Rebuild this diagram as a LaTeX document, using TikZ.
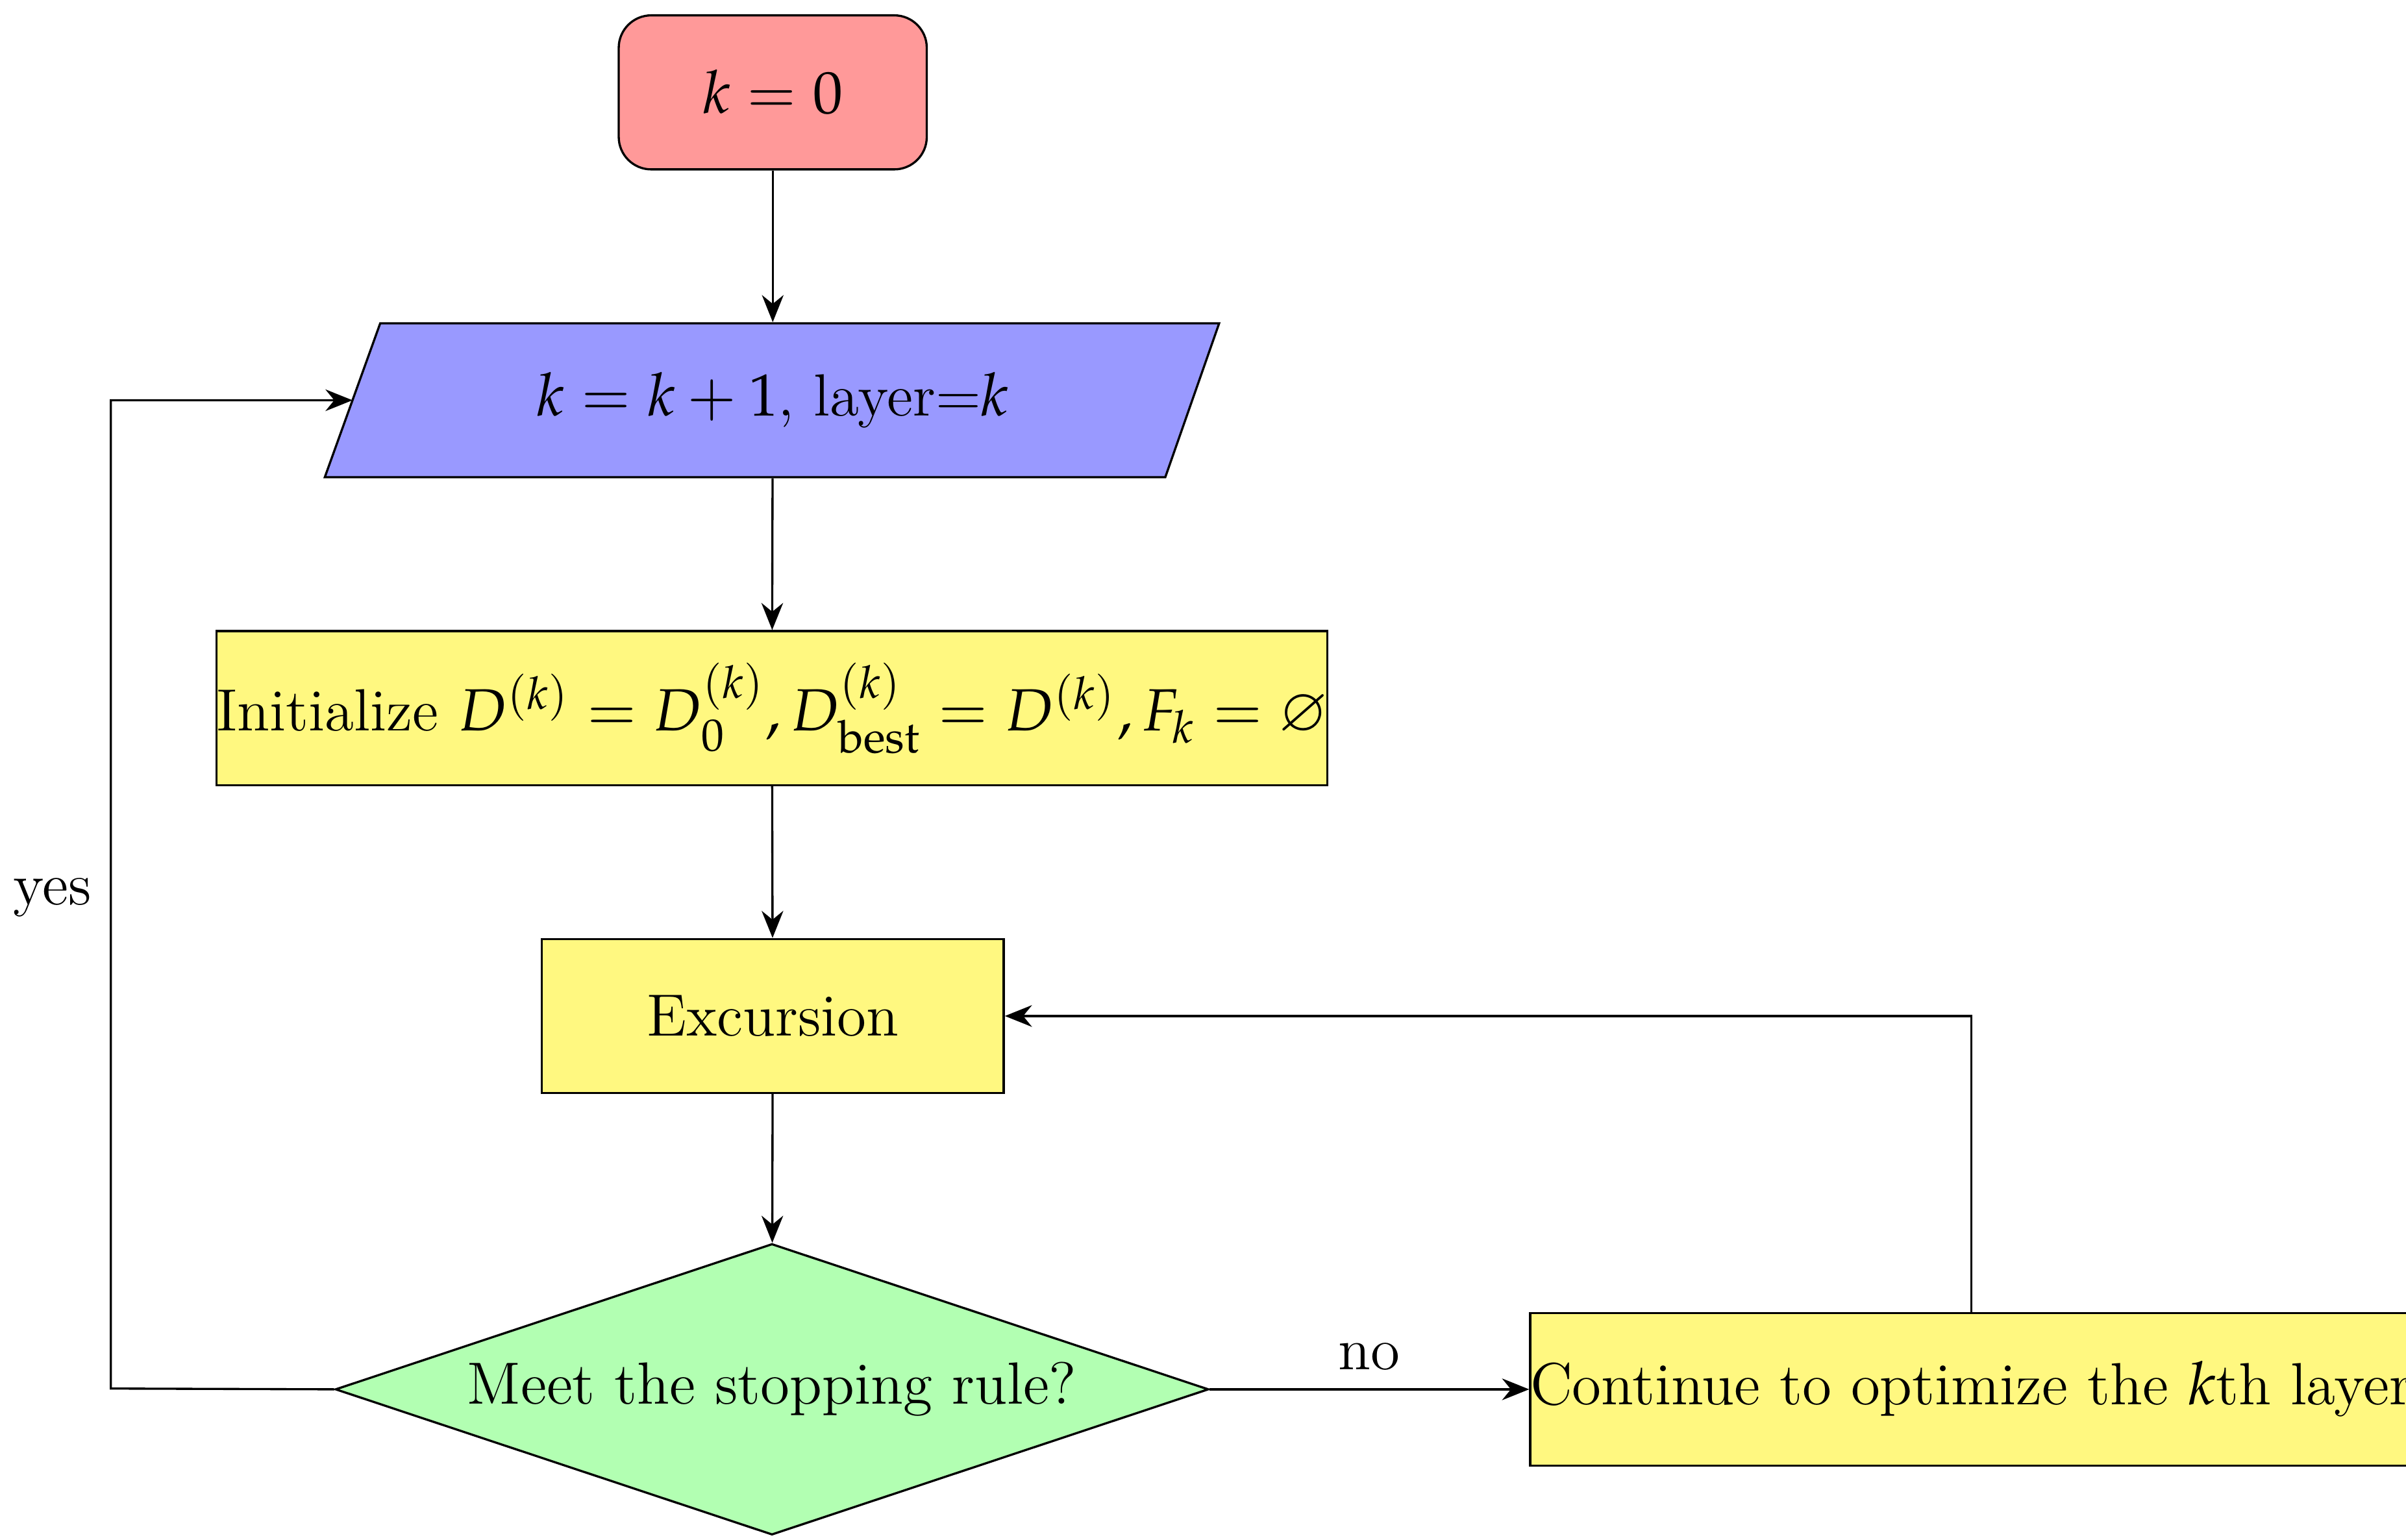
\documentclass[tikz,border=0pt]{standalone}
\usepackage{amssymb}
\usepackage{mathpazo}
\usetikzlibrary{arrows.meta,shapes.geometric}
\begin{document}
\begin{tikzpicture}[x=0.01cm,y=-0.01cm,
  box/.style={draw,fill=yellow!50,minimum height=1cm,inner sep=0pt},
  arr/.style={-{Stealth[length=5pt,width=4pt]}},
  font=\fontsize{11}{13}\selectfont]
\useasboundingbox (0,0) rectangle (1563,1000);
\node[draw,rounded corners=6pt,fill=red!40,minimum width=2cm,minimum height=1cm] (k0) at (502,60) {$k=0$};
\fill[blue!40,draw=black] (247,210) -- (792,210) -- (757,310) -- (211,310) -- cycle;
\node[minimum width=5.45cm,minimum height=1cm,inner sep=0pt] (par) at (502,260) {$k=k+1$, layer=$k$};
\coordinate (parL) at (229,260);
\node[box,minimum width=6.83cm] (init) at (501.5,460) {Initialize $D^{(k)}=D_0^{(k)},D_{\mathrm{best}}^{(k)}=D^{(k)},F_k=\varnothing$};
\node[box,minimum width=3cm] (exc) at (502,660) {Excursion};
\node[draw,diamond,fill=green!30,minimum width=5.67cm,minimum height=1.89cm,aspect=3,inner sep=0pt] (dec) at (501.5,902.5) {Meet the stopping rule?};
\node[box,minimum width=5.55cm,minimum height=0.99cm] (cont) at (1280.5,902.5) {Continue to optimize the $k$th layer};
\draw[arr] (k0) -- (par);
\draw[arr] (par) -- (init);
\draw[arr] (init) -- (exc);
\draw[arr] (exc) -- (dec);
\draw[arr] (dec.east) -- node[above] {no} (cont.west);
\draw[arr] (cont.north) |- (exc.east);
\coordinate (lx) at (72,902);
\draw[arr] (dec.west) -- (lx) |- (parL);
\node (yes) at (34,583) {yes};
\end{tikzpicture}
\end{document}
